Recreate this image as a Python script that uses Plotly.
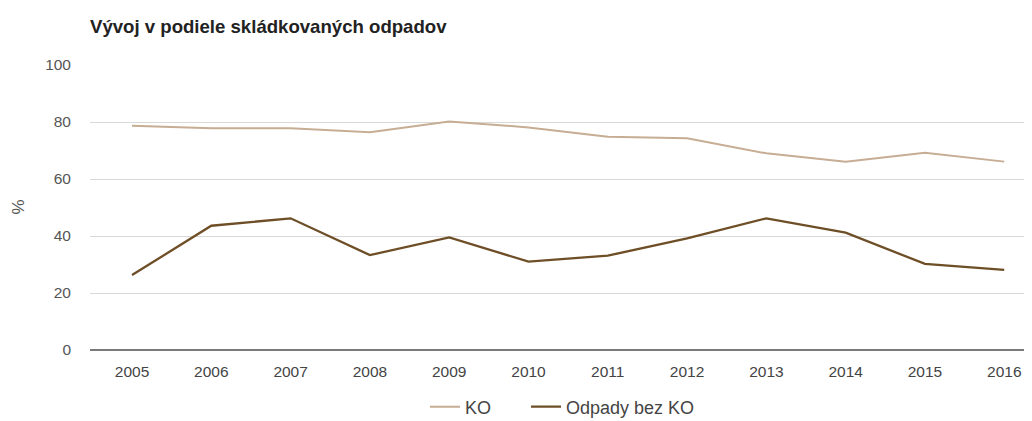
import plotly.graph_objects as go

years = ["2005", "2006", "2007", "2008", "2009", "2010", "2011", "2012", "2013", "2014", "2015", "2016"]
ko = [78.7, 77.8, 77.8, 76.4, 80.2, 78.1, 74.8, 74.3, 69.0, 66.1, 69.2, 66.1]
odpady_bez_ko = [26.3, 43.6, 46.2, 33.3, 39.5, 31.0, 33.1, 39.2, 46.2, 41.2, 30.2, 28.1]
y_ticks = [0, 20, 40, 60, 80, 100]

FONT = "Liberation Sans, Arial, sans-serif"

# page body has an 8px margin, so the figure is 8px smaller than the window
W, H = 1024, 413
L, T, B = 82, 57, 71

fig = go.Figure()
fig.add_trace(go.Scatter(x=years, y=ko, name="KO", mode="lines", legend="legend",
                         line=dict(color="#c6ad94", width=2)))
fig.add_trace(go.Scatter(x=years, y=odpady_bez_ko, name="Odpady bez KO", mode="lines",
                         legend="legend2",
                         line=dict(color="#6e4e26", width=2.3)))

legend_common = dict(orientation="h", xanchor="left", y=-0.2, yanchor="middle",
                     font=dict(size=18, color="#444444", family=FONT))

fig.update_layout(
    width=W, height=H,
    margin=dict(l=L, r=0, t=T, b=B, autoexpand=False),
    paper_bgcolor="white", plot_bgcolor="white",
    font=dict(family=FONT, color="#555555", size=15),
    title=dict(text="<b>Vývoj v podiele skládkovaných odpadov</b>",
               x=0, xref="paper", xanchor="left", y=1 - 18 / H, yref="container",
               yanchor="middle",
               font=dict(size=18.6, color="#222222", family=FONT)),
    showlegend=True,
    legend=dict(x=(425 - 90) / (W - L), **legend_common),
    legend2=dict(x=(526 - 90) / (W - L), **legend_common),
    xaxis=dict(type="category", range=[-0.53, 11.35], showgrid=False, zeroline=False,
               showline=False, ticks="", automargin=False, ticklabelstandoff=10,
               tickfont=dict(size=15.5, color="#444444", family=FONT)),
    yaxis=dict(range=[0, 100], tickvals=y_ticks, showgrid=True, gridcolor="#d9d9d9",
               gridwidth=1, zeroline=True, zerolinecolor="#7a7a7a", zerolinewidth=2,
               ticks="", automargin=False, ticklabelstandoff=18,
               tickfont=dict(size=15.5, color="#555555", family=FONT)),
    annotations=[dict(text="%", x=(10 - L) / (W - L), xref="paper", xanchor="center",
                      y=0.5, yref="paper", yanchor="middle", showarrow=False,
                      textangle=-90,
                      font=dict(size=17, color="#555555", family=FONT))],
)

fig.write_html("out.html")
